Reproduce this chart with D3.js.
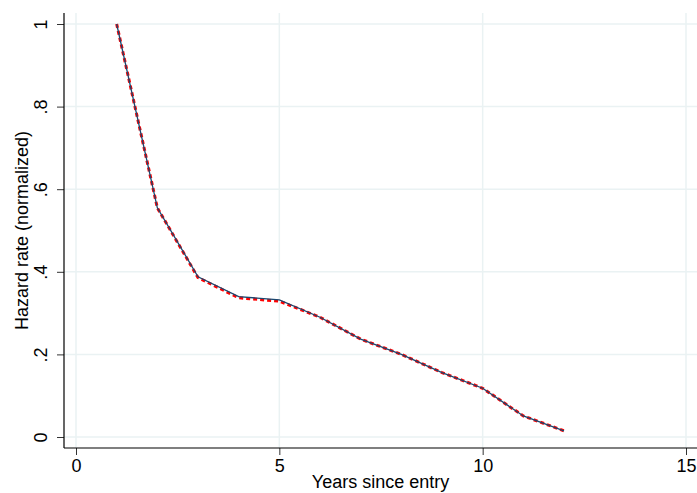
<!DOCTYPE html>
<html>
<head>
<meta charset="utf-8">
<script src="https://cdn.jsdelivr.net/npm/d3@7"></script>
<style>
  html, body { margin: 0; padding: 0; background: #fff; }
  svg { display: block; font-family: "Liberation Sans", Arial, Helvetica, sans-serif; }
</style>
</head>
<body>
<svg id="chart" width="697" height="493"></svg>
<script>
// Data
const years = [1, 2, 3, 4, 5, 6, 7, 8, 9, 10, 11, 12];
const hazardSolid = [1, 0.555, 0.388, 0.340, 0.332, 0.290, 0.237, 0.200, 0.156, 0.118, 0.051, 0.015];
const hazardDashed = [1, 0.555, 0.386, 0.337, 0.329, 0.290, 0.237, 0.200, 0.156, 0.118, 0.051, 0.015];
const xTicks = [0, 5, 10, 15];
const xTickLabels = ["0", "5", "10", "15"];
const yTicks = [0, 0.2, 0.4, 0.6, 0.8, 1];
const yTickLabels = ["0", ".2", ".4", ".6", ".8", "1"];
const xTitle = "Years since entry";
const yTitle = "Hazard rate (normalized)";

const W = 697, H = 493;
const plotLeft = 64, plotRight = 697, plotTop = 13, plotBottom = 448;

const svg = d3.select("#chart");
const x = d3.scaleLinear().domain([0, 15]).range([76, 686]);
const y = d3.scaleLinear().domain([0, 1]).range([437, 24]);

const gridColor = "#eaf2f3";
// gridlines
svg.append("g").selectAll("line.h").data(yTicks).join("line")
  .attr("x1", plotLeft).attr("x2", plotRight)
  .attr("y1", d => y(d)).attr("y2", d => y(d))
  .attr("stroke", gridColor).attr("stroke-width", 1.5);
svg.append("g").selectAll("line.v").data(xTicks).join("line")
  .attr("y1", plotTop).attr("y2", plotBottom)
  .attr("x1", d => x(d)).attr("x2", d => x(d))
  .attr("stroke", gridColor).attr("stroke-width", 1.5);

// axes
const xAxis = d3.axisBottom(x).tickValues(xTicks).tickFormat((d, i) => xTickLabels[i]).tickSize(7).tickPadding(4);
const gx = svg.append("g").attr("transform", `translate(0,${plotBottom})`).call(xAxis);
gx.select(".domain").remove();
gx.selectAll(".tick line").attr("stroke", "#333").attr("stroke-width", 1);
gx.selectAll(".tick text").attr("font-size", 18).attr("fill", "#000").attr("font-family", "Liberation Sans, Arial, sans-serif");

const yAxis = d3.axisLeft(y).tickValues(yTicks).tickFormat((d, i) => yTickLabels[i]).tickSize(7).tickPadding(0);
const gy = svg.append("g").attr("transform", `translate(${plotLeft},0)`).call(yAxis);
gy.select(".domain").remove();
gy.selectAll(".tick line").attr("stroke", "#333").attr("stroke-width", 1);
gy.selectAll(".tick text")
  .attr("font-size", 18).attr("fill", "#000").attr("font-family", "Liberation Sans, Arial, sans-serif")
  .attr("x", null).attr("dy", null)
  .attr("text-anchor", "middle")
  .attr("transform", "translate(-17.5,0) rotate(-90)");

svg.append("line").attr("x1", plotLeft).attr("x2", plotRight).attr("y1", plotBottom).attr("y2", plotBottom)
  .attr("stroke", "#000").attr("stroke-width", 1.2);
svg.append("line").attr("x1", plotLeft).attr("x2", plotLeft).attr("y1", plotTop).attr("y2", plotBottom)
  .attr("stroke", "#000").attr("stroke-width", 1.2);

// lines
const line = d3.line().x((d, i) => x(years[i])).y(d => y(d));
svg.append("path").datum(hazardDashed).attr("d", line)
  .attr("fill", "none").attr("stroke", "#ff0000").attr("stroke-width", 3)
  .attr("stroke-dasharray", "4,3");
svg.append("path").datum(hazardSolid).attr("d", line)
  .attr("fill", "none").attr("stroke", "#1a476f").attr("stroke-width", 1.3);

// titles
svg.append("text").attr("x", (plotLeft + plotRight) / 2).attr("y", 488)
  .attr("text-anchor", "middle").attr("font-size", 18).attr("fill", "#000").text(xTitle);
svg.append("text").attr("transform", `translate(28,${(plotTop + plotBottom) / 2}) rotate(-90)`)
  .attr("text-anchor", "middle").attr("font-size", 18).attr("fill", "#000").text(yTitle);
</script>
</body>
</html>
